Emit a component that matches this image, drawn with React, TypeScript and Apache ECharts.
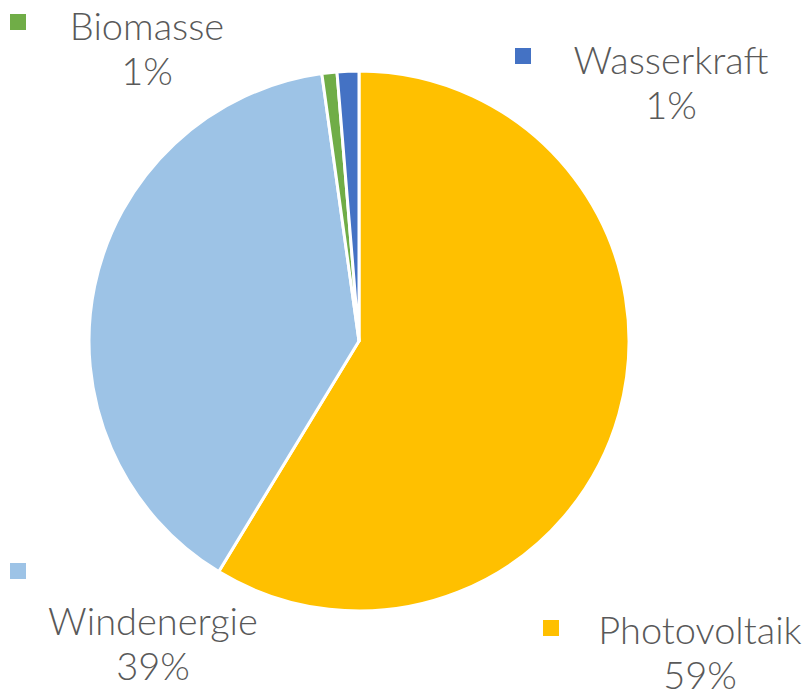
import React, { useEffect, useRef } from "react";
import * as echarts from "echarts";

const categories = ["Photovoltaik", "Windenergie", "Biomasse", "Wasserkraft"];
const values = [58.7, 39.1, 0.9, 1.3];
const colors = ["#FFC000", "#9DC3E6", "#70AD47", "#4472C4"];

// label block centres and legend-key positions (layout only)
const labelPos = [
  [700, 651],
  [153, 642],
  [147, 47],
  [671, 81],
];
const keyPos = [
  [543, 620],
  [10, 563],
  [10, 14],
  [515, 48],
];

export default function App() {
  const ref = useRef<HTMLDivElement>(null);
  useEffect(() => {
    document.body.style.margin = "0";
    const chart = echarts.init(ref.current!, null, { renderer: "svg" });
    chart.setOption({
      animation: false,
      backgroundColor: "#ffffff",
      textStyle: { fontFamily: "Lato" },
      graphic: categories.map((c, i) => ({
        type: "rect",
        shape: { x: keyPos[i][0], y: keyPos[i][1], width: 16, height: 16 },
        style: { fill: colors[i] },
        silent: true,
      })),
      series: [
        {
          type: "pie",
          center: [359, 341],
          radius: [0, 270],
          startAngle: 90,
          clockwise: true,
          percentPrecision: 0,
          avoidLabelOverlap: false,
          itemStyle: { borderColor: "#ffffff", borderWidth: 3 },
          label: {
            show: true,
            formatter: "{b}\n{d}%",
            color: "#595959",
            fontFamily: "Lato",
            fontWeight: 300,
            fontSize: 38,
            lineHeight: 45,
            align: "center",
          },
          labelLine: { show: false },
          labelLayout: (p: any) => ({
            x: labelPos[p.dataIndex][0],
            y: labelPos[p.dataIndex][1],
            align: "center",
            verticalAlign: "middle",
          }),
          data: categories.map((c, i) => ({
            name: c,
            value: values[i],
            itemStyle: { color: colors[i] },
          })),
        },
      ],
    });
    return () => chart.dispose();
  }, []);
  return <div ref={ref} style={{ width: 808, height: 693 }} />;
}
